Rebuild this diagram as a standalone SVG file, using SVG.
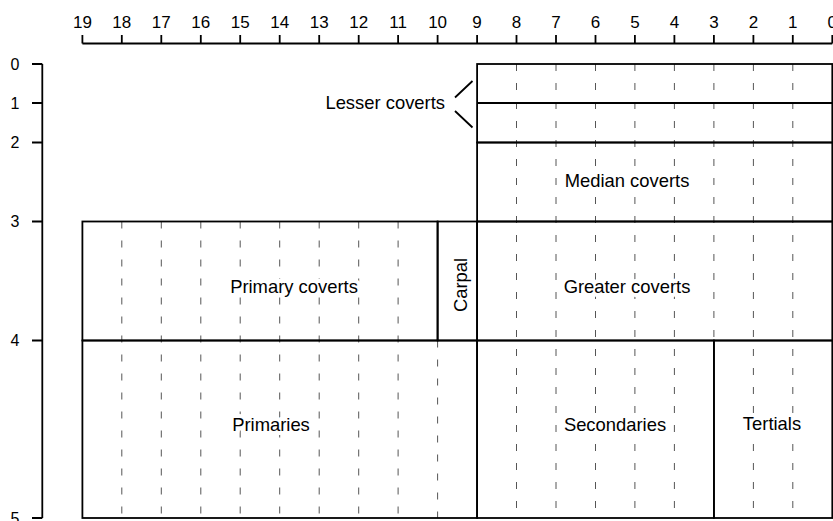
<svg xmlns="http://www.w3.org/2000/svg" width="833" height="521" viewBox="0 0 833 521">
<style>
  text { font-family: "Liberation Sans", Arial, Helvetica, sans-serif; fill: #000; }
  .ax { font-size: 17px; text-anchor: middle; }
  .ay { font-size: 16px; text-anchor: middle; }
  .lbl { font-size: 18.4px; text-anchor: middle; stroke: #fff; stroke-width: 8; stroke-linejoin: round; paint-order: stroke; }
  .axis { stroke: #000; stroke-width: 1.8; fill: none; }
  .solid { stroke: #000; stroke-width: 1.8; fill: none; }
  .dash { stroke: #555; stroke-width: 1; stroke-dasharray: 7 12; fill: none; }
</style>
<rect width="833" height="521" fill="#fff"/>

<g id="axis-top">
  <path class="axis" d="M82.4 43.5 H832.3 M82.4 35 V43.5 M121.8 35 V43.5 M161.3 35 V43.5 M200.8 35 V43.5 M240.2 35 V43.5 M279.7 35 V43.5 M319.2 35 V43.5 M358.7 35 V43.5 M398.1 35 V43.5 M437.6 35 V43.5 M477.1 35 V43.5 M516.5 35 V43.5 M556 35 V43.5 M595.5 35 V43.5 M634.9 35 V43.5 M674.4 35 V43.5 M713.9 35 V43.5 M753.4 35 V43.5 M792.8 35 V43.5 M832.3 35 V43.5"/>
  <text class="ax" x="82.4" y="28">19</text>
  <text class="ax" x="121.8" y="28">18</text>
  <text class="ax" x="161.3" y="28">17</text>
  <text class="ax" x="200.8" y="28">16</text>
  <text class="ax" x="240.2" y="28">15</text>
  <text class="ax" x="279.7" y="28">14</text>
  <text class="ax" x="319.2" y="28">13</text>
  <text class="ax" x="358.7" y="28">12</text>
  <text class="ax" x="398.1" y="28">11</text>
  <text class="ax" x="437.6" y="28">10</text>
  <text class="ax" x="477.1" y="28">9</text>
  <text class="ax" x="516.5" y="28">8</text>
  <text class="ax" x="556" y="28">7</text>
  <text class="ax" x="595.5" y="28">6</text>
  <text class="ax" x="634.9" y="28">5</text>
  <text class="ax" x="674.4" y="28">4</text>
  <text class="ax" x="713.9" y="28">3</text>
  <text class="ax" x="753.4" y="28">2</text>
  <text class="ax" x="792.8" y="28">1</text>
  <text class="ax" x="832.3" y="28">0</text>
</g>

<g id="axis-left">
  <path class="axis" d="M42.3 64 V518 M32 64 H42.3 M32 103 H42.3 M32 142.5 H42.3 M32 221.5 H42.3 M32 340.5 H42.3 M32 518 H42.3"/>
  <text class="ay" x="15" y="69.5">0</text>
  <text class="ay" x="15" y="108.5">1</text>
  <text class="ay" x="15" y="148">2</text>
  <text class="ay" x="15" y="227">3</text>
  <text class="ay" x="15" y="346">4</text>
  <text class="ay" x="15" y="523.5">5</text>
</g>

<g id="grid">
  <path class="dash" d="M516.5 64 V518 M556 64 V518 M595.5 64 V518 M634.9 64 V518 M674.4 64 V518 M753.4 64 V518 M792.8 64 V518 M713.9 64 V340.5"/>
  <path class="dash" d="M121.8 221.5 V518 M161.3 221.5 V518 M200.8 221.5 V518 M240.2 221.5 V518 M279.7 221.5 V518 M319.2 221.5 V518 M358.7 221.5 V518 M398.1 221.5 V518 M437.6 340.5 V518"/>
</g>

<g id="lesser-coverts">
  <rect class="solid" x="477.1" y="64" width="355.2" height="78.5"/>
  <path class="solid" d="M477.1 103 H832.3"/>
  <text class="lbl" x="445" y="109" style="text-anchor:end">Lesser coverts</text>
</g>
<g id="connectors">
  <path class="solid" d="M455 97.5 L472.5 81 M455 111 L472.5 127.5" stroke-width="1.6"/>
</g>
<g id="median-coverts">
  <rect class="solid" x="477.1" y="142.5" width="355.2" height="79"/>
  <text class="lbl" x="627" y="187">Median coverts</text>
</g>
<g id="greater-coverts">
  <rect class="solid" x="477.1" y="221.5" width="355.2" height="119"/>
  <text class="lbl" x="627" y="293">Greater coverts</text>
</g>
<g id="primary-coverts">
  <rect class="solid" x="82.4" y="221.5" width="355.2" height="119"/>
  <text class="lbl" x="294" y="293">Primary coverts</text>
</g>
<g id="carpal">
  <rect class="solid" x="437.6" y="221.5" width="39.5" height="119"/>
  <text class="lbl" x="0" y="0" transform="translate(466.5 285) rotate(-90)" style="stroke:none">Carpal</text>
</g>
<g id="primaries">
  <rect class="solid" x="82.4" y="340.5" width="394.7" height="177.5"/>
  <text class="lbl" x="271" y="431">Primaries</text>
</g>
<g id="secondaries">
  <rect class="solid" x="477.1" y="340.5" width="236.8" height="177.5"/>
  <text class="lbl" x="615" y="431">Secondaries</text>
</g>
<g id="tertials">
  <rect class="solid" x="713.9" y="340.5" width="118.4" height="177.5"/>
  <text class="lbl" x="772" y="430">Tertials</text>
</g>
</svg>
